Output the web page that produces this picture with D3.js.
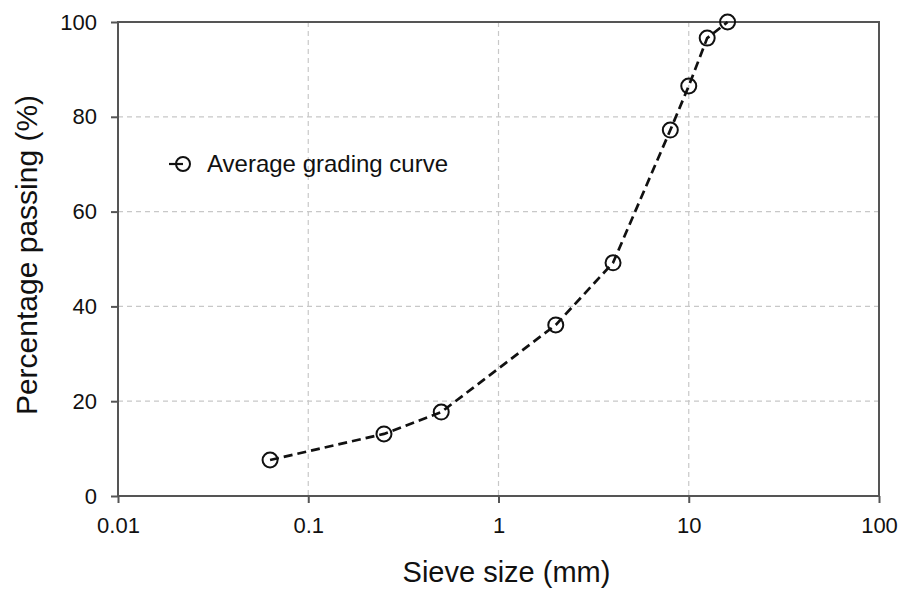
<!DOCTYPE html>
<html>
<head>
<meta charset="UTF-8">
<title>Grading curve</title>
<script src="https://d3js.org/d3.v7.min.js"></script>
<style>
  body { margin: 0; background: #fff; }
  text { font-family: "Liberation Sans", Arial, sans-serif; fill: #111; }
</style>
</head>
<body>
<svg id="chart" width="901" height="590"></svg>
<script>
// sieve sizes (mm) and percentage passing
var sieveSizes = [0.063, 0.25, 0.5, 2, 4, 8, 10, 12.5, 16];
var passing    = [7.6, 13.1, 17.7, 36.1, 49.2, 77.2, 86.5, 96.6, 100];

var xTicks = [0.01, 0.1, 1, 10, 100];
var xTickLabels = ["0.01", "0.1", "1", "10", "100"];
var yTicks = [0, 20, 40, 60, 80, 100];

var seriesName = "Average grading curve";
var xTitle = "Sieve size (mm)";
var yTitle = "Percentage passing (%)";

var margin = {top: 22, right: 22, bottom: 94, left: 118};
var W = 901, H = 590;
var innerW = W - margin.left - margin.right;
var innerH = H - margin.top - margin.bottom;
var axisColor = "#555";

var svg = d3.select("#chart");
var g = svg.append("g").attr("transform", "translate(" + margin.left + "," + margin.top + ")");

var x = d3.scaleLog().domain([0.01, 100]).range([0, innerW]);
var y = d3.scaleLinear().domain([0, 100]).range([innerH, 0]);

// grid
g.append("g").selectAll("line").data(xTicks.slice(1, -1)).enter().append("line")
  .attr("x1", function(d) { return x(d); }).attr("x2", function(d) { return x(d); })
  .attr("y1", 0).attr("y2", innerH)
  .attr("stroke", "#c8c8c8").attr("stroke-width", 1.2).attr("stroke-dasharray", "5,4");
g.append("g").selectAll("line").data(yTicks.slice(1, -1)).enter().append("line")
  .attr("y1", function(d) { return y(d); }).attr("y2", function(d) { return y(d); })
  .attr("x1", 0).attr("x2", innerW)
  .attr("stroke", "#c8c8c8").attr("stroke-width", 1.2).attr("stroke-dasharray", "5,4");

// box
g.append("rect").attr("width", innerW).attr("height", innerH)
  .attr("fill", "none").attr("stroke", axisColor).attr("stroke-width", 2);

// axes
var xAxis = d3.axisBottom(x).tickValues(xTicks)
  .tickFormat(function(d, i) { return xTickLabels[i]; })
  .tickSizeInner(7).tickSizeOuter(0).tickPadding(14);
var gx = g.append("g").attr("transform", "translate(0," + innerH + ")").call(xAxis);

var yAxis = d3.axisLeft(y).tickValues(yTicks).tickSizeInner(7).tickSizeOuter(0).tickPadding(14);
var gy = g.append("g").call(yAxis);

[gx, gy].forEach(function(ax) {
  ax.select(".domain").remove();
  ax.selectAll(".tick line").attr("stroke", axisColor).attr("stroke-width", 2);
  ax.selectAll(".tick text").style("font-family", "'Liberation Sans', Arial, sans-serif")
    .style("font-size", "22px").attr("fill", "#111");
});

// axis titles
svg.append("text")
  .attr("x", margin.left + innerW / 2 + 8).attr("y", 582)
  .attr("text-anchor", "middle").style("font-size", "29px").text(xTitle);
svg.append("text")
  .attr("transform", "translate(37," + (margin.top + innerH / 2 - 4) + ") rotate(-90)")
  .attr("text-anchor", "middle").style("font-size", "30px").text(yTitle);

// series
var pts = sieveSizes.map(function(s, i) { return [s, passing[i]]; });
var line = d3.line().x(function(d) { return x(d[0]); }).y(function(d) { return y(d[1]); });

g.append("path").datum(pts).attr("d", line)
  .attr("fill", "none").attr("stroke", "#111").attr("stroke-width", 2.7)
  .attr("stroke-dasharray", "9,5");

g.append("g").selectAll("circle").data(pts).enter().append("circle")
  .attr("cx", function(d) { return x(d[0]); })
  .attr("cy", function(d) { return y(d[1]); })
  .attr("r", 7.5).attr("fill", "none").attr("stroke", "#111").attr("stroke-width", 2);

// legend
var lg = svg.append("g").attr("transform", "translate(183,164)");
lg.append("line").attr("x1", -14).attr("x2", 0).attr("y1", 0).attr("y2", 0)
  .attr("stroke", "#111").attr("stroke-width", 2.2);
lg.append("circle").attr("r", 7).attr("fill", "none").attr("stroke", "#111").attr("stroke-width", 2);
lg.append("text").attr("x", 24).attr("y", 8).style("font-size", "24px").text(seriesName);
</script>
</body>
</html>
